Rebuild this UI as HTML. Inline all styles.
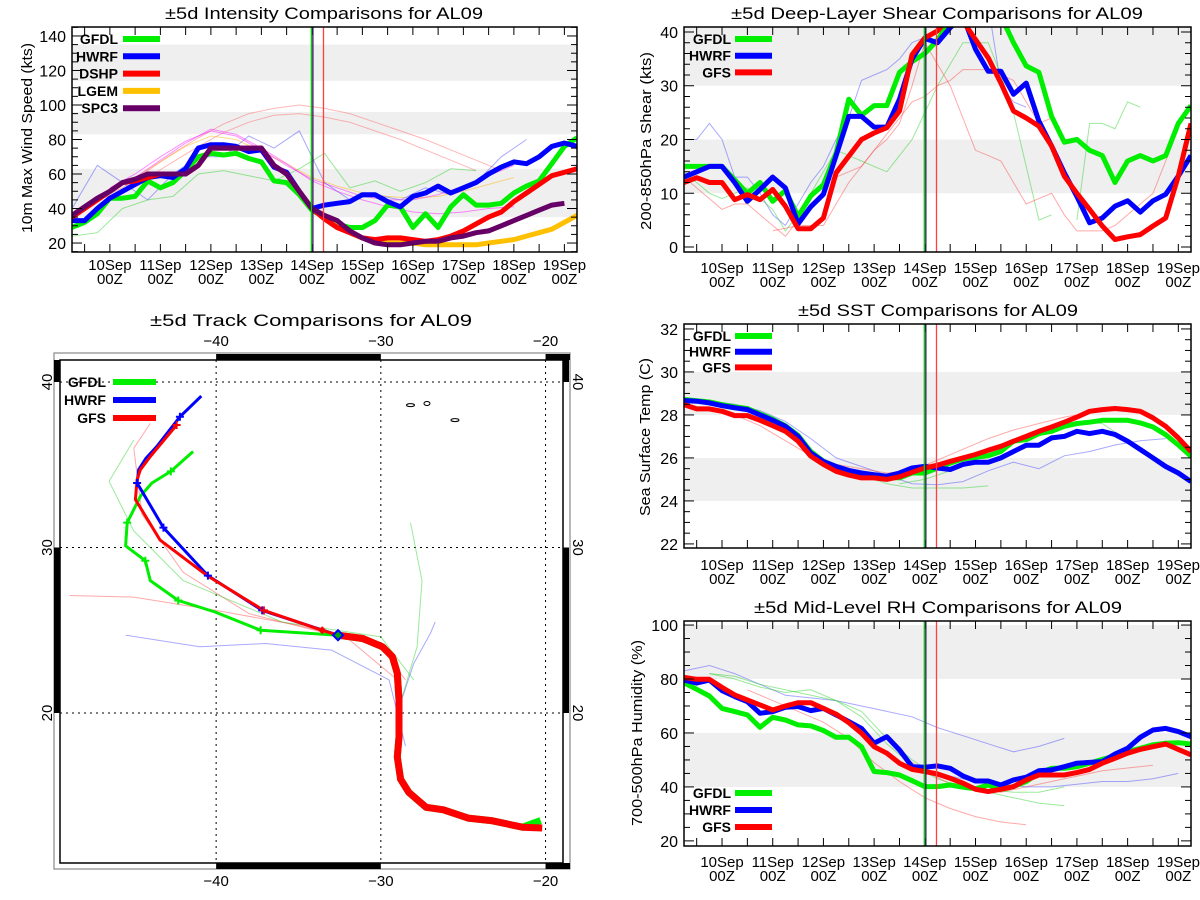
<!DOCTYPE html>
<html><head><meta charset="utf-8">
<style>
html,body{margin:0;padding:0;background:#fff;}
svg{display:block;font-family:"Liberation Sans",sans-serif;}
</style></head>
<body>
<svg id="fig" xmlns="http://www.w3.org/2000/svg" width="1200" height="900" viewBox="0 0 1200 900"></svg>
<script>
// ================= DATA =================
const dateLabels = ['10Sep','11Sep','12Sep','13Sep','14Sep','15Sep','16Sep','17Sep','18Sep','19Sep'];
const dateDays = [10,11,12,13,14,15,16,17,18,19];
const initDays = [13.99, 14.02, 14.23];

const intYTicks = [20,40,60,80,100,120,140];
const intBands = [[35,63],[83,96],[114,135]];
const intGFDL = [29,32,37,46,46,47,56,52,55,62,70,72,71,72,69,67,56,55,48,39,35,31,29,29,33,42,41,29,37,29,41,48,42,42,43,49,53,56,66,76,81];
const intHWRF = [33,33,40,46,50,54,58,59,58,63,75,77,77,76,73,74,64,61,50,40,42,43,44,48,48,44,41,47,49,53,49,52,55,60,64,67,66,70,76,78,76];
const intDSHP = [35,40,45,50,55,56,58,60,60,60,65,75,75,75,75,75,65,60,50,40,34,29,26,23,22,23,23,22,21,22,24,27,31,35,38,44,49,54,59,61,63];
const intLGEM = [40,35,30,26,23,21,20,20,20,19,19,19,19,19,20,21,22,24,26,28,32,36,40,44];
const intLGEMStart = 19;
const intSPC3 = [36,41,46,50,55,57,60,60,60,60,65,75,75,75,75,75,65,60,50,40,36,33,27,23,20,19,19,20,21,21,23,24,26,27,30,33,36,39,42,43];
const intThinPink1 = [45,52,62,72,81,89,95,98,100,98,95,90,85,80,74,68,62];
const intThinPink2 = [45,50,58,67,76,84,90,94,95,93,90,85,80,74,68,62];
const intThinMag1 = [52,60,70,79,85,82,74,65,57,52,47,45,45,48,53,59,65];
const intThinMag2 = [50,58,68,78,86,83,75,66,56,50,45,41,38,37,38,40,41];
const intThinOrange = [50,58,67,76,82,80,73,66,58,53,49,47,46,47,50,54,58];
const intThinBlue = [40,65,55,45,60,70,70,82,75,85,55,45,48,45,52,48,55,70,80];
const intThinGreen = [24,26,40,45,47,60,62,59,56,63,72,52,56,50,55,63,62];

const shrYTicks = [0,10,20,30,40];
const shrBands = [[10,20],[30,40.9]];
const shrGFDL = [15,15,15,15,12.5,10,12,8.5,10.5,5.7,9.5,11.6,17.5,27.5,24.5,26.3,26.3,32.5,34.5,36,38.5,42,44,45,45,43,38,33.7,32.5,24.3,19.5,20,18,17,12,16,17,16,17,23,26.3];
const shrHWRF = [13,14,15,15,12,8.5,10.7,13,11,4.3,7.5,9.8,17,24.3,24.3,22.3,22.3,27.5,35,38.8,38,40.8,43,36.8,32.7,32.7,28.4,30.5,23.4,18.8,13.8,9.4,4.5,5.4,7.6,8.6,6.5,8.6,9.8,13.2,17];
const shrGFS = [12,12.9,12,12,8.8,9.75,8.8,10.7,7.6,3.4,3.4,5.4,13.8,16.9,20,21.2,22.2,25.3,35.8,38.9,40.2,43,42,38.6,35.2,30.5,25.3,24,22.5,18.8,13.2,10,7,3.9,1.4,1.9,2.3,3.9,5.4,13.2,23];
const shrThinBlue1 = [20,20,23,20,13,13,10,6,4,8,12,15,20,24,31,32,33,35,38,39,40,42,44,45,45,30,27,26];
const shrThinGreen1 = [14,12,10,9,10,11,9,7,3,6,10,14,18,17,16,15,14,17,20,25,30,34,38,38,38,32,25,15,5,6];
const shrThinRed1 = [13,11,9,7,8,8,6,4,2,5,10,12,13,14,15,18,21,24,27,28,30,31,33,33,33,32,31,27,23,24];
const shrThinRed2 = [3,3.5,4,4,4,8,12,15,18,20,23,30,38,34,30,24,18,17,16,12,8,9,10,6,3,3,3,4,6,8,10,16,22];
const shrThinGreen2 = [5,23,23,22,27,26];

const sstYTicks = [22,24,26,28,30,32];
const sstBands = [[24,26],[28,30]];
const sstGFDL = [28.72,28.66,28.6,28.48,28.38,28.3,28.05,27.8,27.5,27.05,26.3,25.85,25.6,25.4,25.28,25.18,25.1,25.07,25.3,25.3,25.53,25.76,25.95,26.04,26.1,26.3,26.78,26.85,27.13,27.24,27.47,27.6,27.66,27.75,27.75,27.75,27.63,27.44,27.08,26.6,26.08];
const sstHWRF = [28.67,28.64,28.56,28.43,28.33,28.25,28.0,27.75,27.47,27.0,26.23,25.84,25.6,25.42,25.3,25.22,25.15,25.3,25.53,25.61,25.53,25.46,25.7,25.8,25.8,26.0,26.3,26.59,26.59,26.93,27.0,27.24,27.13,27.24,27.09,26.78,26.39,26.0,25.6,25.3,24.9];
const sstGFS = [28.48,28.28,28.28,28.17,27.97,27.97,27.75,27.5,27.24,26.78,26.08,25.7,25.38,25.2,25.07,25.07,25.0,25.12,25.33,25.53,25.66,25.84,26.0,26.16,26.36,26.54,26.78,27.0,27.24,27.44,27.66,27.9,28.17,28.25,28.3,28.25,28.17,27.86,27.47,26.93,26.3];
const sstThinBlue1 = [28.6,28.65,28.5,28.2,27.7,26.9,26.0,25.6,25.2,24.8,24.75,24.9,25.4,25.8,25.5,26.1,26.3,26.6,26.8,26.9];
const sstThinGreen1 = [28.5,28.3,28.0,27.2,26.3,25.6,25.2,24.8,24.6,24.6,24.6,24.7];
const sstThinRed1 = [28.0,27.5,26.8,26.1,25.7,25.5,25.3,25.4,25.9,26.4,26.9,27.3,27.6,27.9,28.1];
const sstThinGreen2 = [24.8,25.0,25.4,25.9,26.4,26.9,27.3,27.7,27.6,26.8];

const rhYTicks = [20,40,60,80,100];
const rhBands = [[40,60],[80,100]];
const rhGFDL = [78.6,76.2,73.7,69.1,67.9,66.7,62.1,65.8,64.8,63,62.6,60.9,58.4,58.4,54.9,45.7,45.3,44.4,42.3,40.1,40.1,40.7,39.9,39.3,40.7,39.1,40.1,42,45.1,46.9,46.9,47.5,48.8,50.2,51.5,53.1,54.3,55.6,56.2,56.4,55.9];
const rhHWRF = [79.6,78.5,79.6,75.7,73.5,71.6,67.3,67.9,69.5,69.8,68.3,69.1,66.7,64.2,61.7,56.2,58.6,53.7,47.5,47.3,47.8,46.9,44.1,42.2,42.2,40.7,42.6,43.6,46,46.3,47.5,48.8,49.1,49.4,52.2,54.3,58.4,61.1,61.7,60.5,58.6];
const rhGFS = [80.6,79.9,79.9,76.9,74.1,72.2,70.4,68.5,70,71.2,71.2,69.1,67,63.8,59.9,54.9,52.5,48.8,46.5,45.7,44.8,43.2,41.4,39.1,38.3,39.1,40.1,42.6,44.4,44.4,44.4,45.3,46.5,48.8,50.6,52.5,53.9,54.9,55.9,53.9,51.9];
const rhThinBlue1 = [83,85,82,78,74,73,72,70,68,66,62,59,56,53,55,58];
const rhThinRed1 = [76,72,68,64,58,49,42,36,32,29,27,26];
const rhThinGreen1 = [82,81,78,76,74,72,66,56,48,43,40,38,36,34,33];
const rhThinRed2 = [52,46,41,39,38,40,42,44,46,47,48];
const rhThinBlue2 = [44,42,41,40,40,41,42,42,43,45];
const rhThinGreen2 = [82,80,77,75,76,72,68,58,50,44,41,39,38,38,40];

const lonTicks = [-40,-30,-20];
const latTicks = [20,30,40];
const pastLon = [-20.2,-21.4,-23.3,-24.7,-26.2,-27.25,-28.3,-28.8,-29.0,-28.9,-28.9,-29.0,-29.3,-29.9,-31.1,-32.6];
const pastLat = [13.05,13.1,13.5,13.65,14.15,14.3,15.2,16.0,17.35,18.55,20.8,22.4,23.4,24.0,24.5,24.7];
const gfsLon = [-32.6,-33.56,-37.1,-40.55,-43.4,-44.9,-44.8,-44.6,-44.0,-42.4];
const gfsLat = [24.7,25.0,26.2,28.3,30.45,32.9,34.1,34.7,35.5,37.4];
const hwrfLon = [-32.6,-37.2,-40.5,-43.2,-44.8,-44.7,-44.25,-43.6,-42.2,-40.9];
const hwrfLat = [24.7,26.2,28.3,31.2,33.9,34.7,35.4,36.1,37.9,39.15];
const gfdlLon = [-32.6,-37.3,-40.06,-42.3,-44.0,-44.3,-45.5,-45.4,-44.6,-43.9,-42.75,-41.4];
const gfdlLat = [24.7,25.0,26.1,26.8,28.0,29.2,30.1,31.5,33.1,33.9,34.6,35.8];
const gfsMarkLon = [-37.1,-42.4]; const gfsMarkLat = [26.2,37.4];
const hwrfMarkLon = [-37.2,-40.5,-43.2,-44.8,-42.2]; const hwrfMarkLat = [26.2,28.3,31.2,33.9,37.9];
const gfdlMarkLon = [-37.3,-42.3,-44.3,-45.4,-42.75]; const gfdlMarkLat = [25.0,26.8,29.2,31.5,34.6];
const thinTrkRed1Lon = [-28.5,-30,-35,-40,-45,-48.9]; const thinTrkRed1Lat = [22,24,25.3,26.2,27,27.1];
const thinTrkRed2Lon = [-29,-32,-38,-42,-44.5,-45,-44]; const thinTrkRed2Lat = [22,24.5,26.0,28.5,32,36,37.5];
const thinTrkBlue1Lon = [-28.5,-29.5,-33,-37,-41,-45.5]; const thinTrkBlue1Lat = [18,22,23.8,24.2,24.0,24.7];
const thinTrkGreen1Lon = [-28,-30,-36,-42,-45,-46.5,-45]; const thinTrkGreen1Lat = [22,24.6,25.5,28,31,34,36.5];
const thinTrkGreen2Lon = [-29,-27.8,-27.5,-28.2]; const thinTrkGreen2Lat = [20,24,28,31.5];
const thinTrkBlue2Lon = [-29,-28,-27,-26.7]; const thinTrkBlue2Lat = [20,23,24.8,25.5];

// ================= DRAWING =================
const NS = 'http://www.w3.org/2000/svg';
const svg = document.getElementById('fig');
function mk(tag, attrs, parent){
  const e = document.createElementNS(NS, tag);
  for (const k in attrs) e.setAttribute(k, attrs[k]);
  (parent || svg).appendChild(e);
  return e;
}
function txt(s, attrs, parent){ const t = mk('text', attrs, parent); t.textContent = s; return t; }

const panels = {
  intensity: {L:72,R:577,T:27,B:252,ymin:14.8,ymax:145.2,minor:5,ticks:intYTicks,bands:intBands,
    title:'\u00b15d Intensity Comparisons for AL09',tx:165,tw:318,yt:'10m Max Wind Speed (kts)',ytx:27,yty:138,ytw:190,lblY:[270,284]},
  shear: {L:684,R:1191,T:27,B:252,ymin:-0.93,ymax:40.93,minor:2,ticks:shrYTicks,bands:shrBands,
    title:'\u00b15d Deep-Layer Shear Comparisons for AL09',tx:731,tw:412,yt:'200-850hPa Shear (kts)',ytx:646,yty:141,ytw:178,lblY:[273,287]},
  sst: {L:684,R:1191,T:324,B:548,ymin:21.81,ymax:32.23,minor:0.5,ticks:sstYTicks,bands:sstBands,
    title:'\u00b15d SST Comparisons for AL09',tx:798,tw:280,yt:'Sea Surface Temp (C)',ytx:645,yty:437,ytw:158,lblY:[570,584]},
  rh: {L:684,R:1191,T:621,B:846,ymin:18.1,ymax:101.5,minor:5,ticks:rhYTicks,bands:rhBands,
    title:'\u00b15d Mid-Level RH Comparisons for AL09',tx:754,tw:368,yt:'700-500hPa Humidity (%)',ytx:637,yty:733,ytw:186,lblY:[867,881]}
};
const D0 = 9.25, D1 = 19.25;

function setupPanel(key, p){
  const g = mk('g', {});
  
  
  p.g = g;
  p.X = d => p.L + (d - D0) / (D1 - D0) * (p.R - p.L);
  p.Y = v => p.B - (v - p.ymin) / (p.ymax - p.ymin) * (p.B - p.T);
  const cp = mk('clipPath', {id:'clip-' + key}, g);
  mk('rect', {x:p.L, y:p.T, width:p.R - p.L, height:p.B - p.T}, cp);
  p.bands.forEach((b, i) => {
    const r = mk('rect', {x:p.L, y:p.Y(Math.min(b[1], p.ymax)), width:p.R - p.L, height:p.Y(b[0]) - p.Y(Math.min(b[1], p.ymax)), fill:'#efefef'}, g);
    
    
  });
  p.plot = mk('g', {'clip-path':'url(#clip-' + key + ')'}, g);
  const t = txt(p.title, {x:p.tx, y:p.T - 8, 'font-size':17, textLength:p.tw, lengthAdjust:'spacingAndGlyphs', fill:'#000'}, g);
  
  
  const yt = txt(p.yt, {x:0, y:0, 'font-size':15, 'text-anchor':'middle', textLength:p.ytw, lengthAdjust:'spacingAndGlyphs', transform:'translate(' + (p.ytx + 5) + ',' + p.yty + ') rotate(-90)'}, g);
  
  
  const start = Math.ceil(p.ymin / p.minor) * p.minor;
  for (let v = start; v <= p.ymax + 1e-9; v += p.minor) {
    const vv = Math.round(v * 100) / 100;
    const major = p.ticks.some(t => Math.abs(t - vv) < 1e-6);
    const len = major ? 10 : 6;
    mk('line', {x1:p.L, x2:p.L + len, y1:p.Y(vv), y2:p.Y(vv), stroke:'#000', 'stroke-width':1}, g);
    mk('line', {x1:p.R, x2:p.R - len, y1:p.Y(vv), y2:p.Y(vv), stroke:'#000', 'stroke-width':1}, g);
  }
  p.ticks.forEach(v => {
    const l = txt(String(v), {x:p.L - 6, y:p.Y(v) + 6, 'font-size':16, 'text-anchor':'end', fill:'#000'}, g);
    
    
  });
  for (let d = 9.5; d <= D1 + 1e-9; d += 0.5) {
    mk('line', {x1:p.X(d), x2:p.X(d), y1:p.B, y2:p.B - 8, stroke:'#000', 'stroke-width':1}, g);
    mk('line', {x1:p.X(d), x2:p.X(d), y1:p.T, y2:p.T + 8, stroke:'#000', 'stroke-width':1}, g);
  }
  dateDays.forEach((d, i) => {
    const a = txt(dateLabels[i], {x:p.X(d), y:p.lblY[0], 'font-size':15, 'text-anchor':'middle', fill:'#000'}, g);
    
    
    const b = txt('00Z', {x:p.X(d), y:p.lblY[1], 'font-size':15, 'text-anchor':'middle', fill:'#000'}, g);
    
    
  });
}
function frame(p){
  const f = mk('rect', {x:p.L, y:p.T, width:p.R - p.L, height:p.B - p.T, fill:'none', stroke:'#000', 'stroke-width':1.5}, p.g);
  
  
}
function series6h(p, vals, startIdx, color, width, name){
  const pts = vals.map((v, i) => p.X(D0 + 0.25 * (startIdx + i)).toFixed(1) + ',' + p.Y(v).toFixed(1)).join(' ');
  const l = mk('polyline', {points:pts, fill:'none', stroke:color, 'stroke-width':width, 'stroke-linejoin':'round'}, p.plot);
  
  
}
function seriesStep(p, vals, startDay, step, color, name){
  const pts = vals.map((v, i) => p.X(startDay + step * i).toFixed(1) + ',' + p.Y(v).toFixed(1)).join(' ');
  const l = mk('polyline', {points:pts, fill:'none', stroke:color, 'stroke-width':1, 'stroke-opacity':0.45}, p.plot);
  
  
}
function initLines(p){
  const cols = ['#00cc00', '#30105a', '#ff4040'];
  initDays.forEach((d, i) => {
    const l = mk('line', {x1:p.X(d), x2:p.X(d), y1:p.T, y2:p.B, stroke:cols[i], 'stroke-width':1.3}, p.g);
    
    
  });
}
function legend(p, names, colors, x0, textRight, y0, dy, lx0, lx1){
  names.forEach((n, i) => {
    const y = y0 + dy * i;
    const t = txt(n, {x:textRight, y:y + 5, 'font-size':14, 'font-weight':'bold', 'text-anchor':'end', fill:'#000'}, p.g || svg);
    
    
    const l = mk('line', {x1:lx0, x2:lx1, y1:y, y2:y, stroke:colors[i], 'stroke-width':6}, p.g || svg);
    
    
  });
}

const G = '#00ee00', B = '#0000ff', R = '#ff0000', O = '#ffc000', P = '#660066';

let p = panels.intensity; setupPanel('intensity', p);
seriesStep(p, intThinPink1, 9.75, 0.5, '#ff6060', 'thin-pink-1');
seriesStep(p, intThinPink2, 9.75, 0.5, '#ff6060', 'thin-pink-2');
seriesStep(p, intThinOrange, 10.0, 0.5, '#ffb000', 'thin-orange');
seriesStep(p, intThinBlue, 9.25, 0.5, '#4040ff', 'thin-blue');
seriesStep(p, intThinGreen, 9.25, 0.5, '#20d020', 'thin-green');
seriesStep(p, intThinMag1, 10.0, 0.5, '#ff00ff', 'thin-magenta-1');
seriesStep(p, intThinMag2, 10.0, 0.5, '#ff00ff', 'thin-magenta-2');
series6h(p, intGFDL, 0, G, 5, 'gfdl-intensity-line');
series6h(p, intHWRF, 0, B, 5, 'hwrf-intensity-line');
series6h(p, intLGEM, intLGEMStart, O, 5, 'lgem-intensity-line');
series6h(p, intDSHP, 0, R, 5, 'dshp-intensity-line');
series6h(p, intSPC3, 0, P, 5, 'spc3-intensity-line');
initLines(p); frame(p);
legend(p, ['GFDL','HWRF','DSHP','LGEM','SPC3'], [G,B,R,O,P], 0, 118, 39, 17.3, 123, 160);

p = panels.shear; setupPanel('shear', p);
seriesStep(p, shrThinBlue1, 9.25, 0.25, '#4040ff', 'thin-blue-1');
seriesStep(p, shrThinGreen1, 9.25, 0.25, '#20d020', 'thin-green-1');
seriesStep(p, shrThinRed1, 9.25, 0.25, '#ff4040', 'thin-red-1');
seriesStep(p, shrThinRed2, 11.0, 0.25, '#ff4040', 'thin-red-2');
seriesStep(p, shrThinGreen2, 17.0, 0.25, '#20d020', 'thin-green-2');
series6h(p, shrGFDL, 0, G, 5, 'gfdl-shear-line');
series6h(p, shrHWRF, 0, B, 5, 'hwrf-shear-line');
series6h(p, shrGFS, 0, R, 5, 'gfs-shear-line');
initLines(p); frame(p);
legend(p, ['GFDL','HWRF','GFS'], [G,B,R], 0, 731, 39, 16.7, 735, 772);

p = panels.sst; setupPanel('sst', p);
seriesStep(p, sstThinBlue1, 9.25, 0.5, '#4040ff', 'thin-blue-1');
seriesStep(p, sstThinGreen1, 9.75, 0.5, '#20d020', 'thin-green-1');
seriesStep(p, sstThinRed1, 10.25, 0.5, '#ff4040', 'thin-red-1');
seriesStep(p, sstThinGreen2, 13.5, 0.5, '#20d020', 'thin-green-2');
series6h(p, sstGFDL, 0, G, 5, 'gfdl-sst-line');
series6h(p, sstHWRF, 0, B, 5, 'hwrf-sst-line');
series6h(p, sstGFS, 0, R, 5, 'gfs-sst-line');
initLines(p); frame(p);
legend(p, ['GFDL','HWRF','GFS'], [G,B,R], 0, 731, 336, 15.7, 735, 772);

p = panels.rh; setupPanel('rh', p);
seriesStep(p, rhThinBlue1, 9.25, 0.5, '#4040ff', 'thin-blue-1');
seriesStep(p, rhThinRed1, 10.5, 0.5, '#ff4040', 'thin-red-1');
seriesStep(p, rhThinGreen1, 9.75, 0.5, '#20d020', 'thin-green-1');
seriesStep(p, rhThinRed2, 13.5, 0.5, '#ff4040', 'thin-red-2');
seriesStep(p, rhThinBlue2, 14.5, 0.5, '#4040ff', 'thin-blue-2');
seriesStep(p, rhThinGreen2, 9.75, 0.5, '#20d020', 'thin-green-2');
series6h(p, rhGFDL, 0, G, 5, 'gfdl-rh-line');
series6h(p, rhHWRF, 0, B, 5, 'hwrf-rh-line');
series6h(p, rhGFS, 0, R, 5, 'gfs-rh-line');
initLines(p); frame(p);
legend(p, ['GFDL','HWRF','GFS'], [G,B,R], 0, 731, 793, 17, 735, 772);

// ================= TRACK MAP =================
const M = {L:60, R:563, T:360, B:863, lonL:-49.48, lonR:-18.94};
M.X = lon => M.L + (lon - M.lonL) / (M.lonR - M.lonL) * (M.R - M.L);
M.Y = lat => 382 + (40 - lat) * 16.55;
const tg = mk('g', {});


const tt = txt('\u00b15d Track Comparisons for AL09', {x:150, y:326, 'font-size':17, textLength:322, lengthAdjust:'spacingAndGlyphs'}, tg);


const tcp = mk('clipPath', {id:'clip-track'}, tg);
mk('rect', {x:M.L, y:M.T, width:M.R - M.L, height:M.B - M.T}, tcp);
mk('rect', {x:54, y:353, width:516, height:516, fill:'none', stroke:'#888', 'stroke-width':1.2}, tg);
mk('rect', {x:M.L, y:M.T, width:M.R - M.L, height:M.B - M.T, fill:'none', stroke:'#000', 'stroke-width':1.5}, tg);
function hbar(x1, x2, y){ const r = mk('rect', {x:Math.min(x1,x2), y:y, width:Math.abs(x2 - x1), height:6, fill:'#000'}, tg);   }
function vbar(y1, y2, x){ const r = mk('rect', {x:x, y:Math.min(y1,y2), width:6, height:Math.abs(y2 - y1), fill:'#000'}, tg);   }
hbar(M.X(-40), M.X(-30), 354); hbar(M.X(-20), M.R + 7, 354);
hbar(M.X(-40), M.X(-30), 863); hbar(M.X(-20), M.R + 7, 863);
vbar(M.T, M.Y(40), 54); vbar(M.Y(30), M.Y(20), 54);
vbar(M.T, M.Y(40), 563); vbar(M.Y(30), M.Y(20), 563);
lonTicks.forEach(lon => {
  const l = mk('line', {x1:M.X(lon), x2:M.X(lon), y1:M.T, y2:M.B, stroke:'#000', 'stroke-width':1, 'stroke-dasharray':'2,4'}, tg);
  
  
  const a = txt('\u2212' + Math.abs(lon), {x:M.X(lon), y:346, 'font-size':15, 'text-anchor':'middle'}, tg);
  
  
  const b = txt('\u2212' + Math.abs(lon), {x:M.X(lon), y:886, 'font-size':15, 'text-anchor':'middle'}, tg);
  
  
});
latTicks.forEach(lat => {
  const l = mk('line', {x1:M.L, x2:M.R, y1:M.Y(lat), y2:M.Y(lat), stroke:'#000', 'stroke-width':1, 'stroke-dasharray':'2,4'}, tg);
  
  
  const a = txt(String(lat), {x:0, y:0, 'font-size':15, 'text-anchor':'middle', transform:'translate(52,' + M.Y(lat) + ') rotate(-90)'}, tg);
  
  
  const b = txt(String(lat), {x:0, y:0, 'font-size':15, 'text-anchor':'middle', transform:'translate(573,' + M.Y(lat) + ') rotate(90)'}, tg);
  
  
});
[[-28.2,38.6,4,1.5],[-27.2,38.7,3,2],[-25.5,37.7,4,1.5]].forEach(a => {
  const e = mk('ellipse', {cx:M.X(a[0]), cy:M.Y(a[1]), rx:a[2], ry:a[3], fill:'none', stroke:'#000', 'stroke-width':1}, tg);
  
  
});
const tp = mk('g', {'clip-path':'url(#clip-track)'}, tg);
function track(lons, lats, color, w, op, name){
  const pts = lons.map((lo, i) => M.X(lo).toFixed(1) + ',' + M.Y(lats[i]).toFixed(1)).join(' ');
  const l = mk('polyline', {points:pts, fill:'none', stroke:color, 'stroke-width':w, 'stroke-opacity':op, 'stroke-linejoin':'round'}, tp);
  
  
}
function marks(lons, lats, color, name){
  lons.forEach((lo, i) => {
    const x = M.X(lo), y = M.Y(lats[i]);
    const m = mk('path', {d:'M' + (x - 4) + ',' + y + 'h8M' + x + ',' + (y - 4) + 'v8', stroke:color, 'stroke-width':2}, tp);
    
    
  });
}
track(thinTrkRed1Lon, thinTrkRed1Lat, '#ff4040', 1, 0.45, 'thin-track-red-1');
track(thinTrkRed2Lon, thinTrkRed2Lat, '#ff4040', 1, 0.45, 'thin-track-red-2');
track(thinTrkBlue1Lon, thinTrkBlue1Lat, '#4040ff', 1, 0.45, 'thin-track-blue-1');
track(thinTrkGreen1Lon, thinTrkGreen1Lat, '#20d020', 1, 0.45, 'thin-track-green-1');
track(thinTrkGreen2Lon, thinTrkGreen2Lat, '#20d020', 1, 0.45, 'thin-track-green-2');
track(thinTrkBlue2Lon, thinTrkBlue2Lat, '#4040ff', 1, 0.45, 'thin-track-blue-2');
track(pastLon.map((v,i)=> i===0 ? v - 0.1 : v), pastLat.map((v,i)=> i===0 ? v + 0.45 : v), G, 7, 1, 'gfdl-past-track');
track(pastLon, pastLat, R, 7, 1, 'past-track');
track(gfdlLon, gfdlLat, G, 3, 1, 'gfdl-track');
track(hwrfLon, hwrfLat, B, 3, 1, 'hwrf-track');
track(gfsLon, gfsLat, R, 3, 1, 'gfs-track');
marks(gfdlMarkLon, gfdlMarkLat, G, 'gfdl-track-marker');
marks(hwrfMarkLon, hwrfMarkLat, B, 'hwrf-track-marker');
marks(gfsMarkLon, gfsMarkLat, R, 'gfs-track-marker');
{
  const x = M.X(gfsLon[1]), y = M.Y(gfsLat[1]);
  const d1 = mk('path', {d:'M' + x + ',' + (y - 4) + 'l4,4l-4,4l-4,-4z', fill:R}, tp);
  
  
  const x2 = M.X(pastLon[pastLon.length - 1]), y2 = M.Y(pastLat[pastLat.length - 1]);
  const d2 = mk('path', {d:'M' + x2 + ',' + (y2 - 5) + 'l5,5l-5,5l-5,-5z', fill:'#00aa00', stroke:B, 'stroke-width':2}, tp);
  
  
}
legend({g:tg}, ['GFDL','HWRF','GFS'], [G,B,R], 0, 106, 382, 18, 113, 156);
</script>
</body></html>
